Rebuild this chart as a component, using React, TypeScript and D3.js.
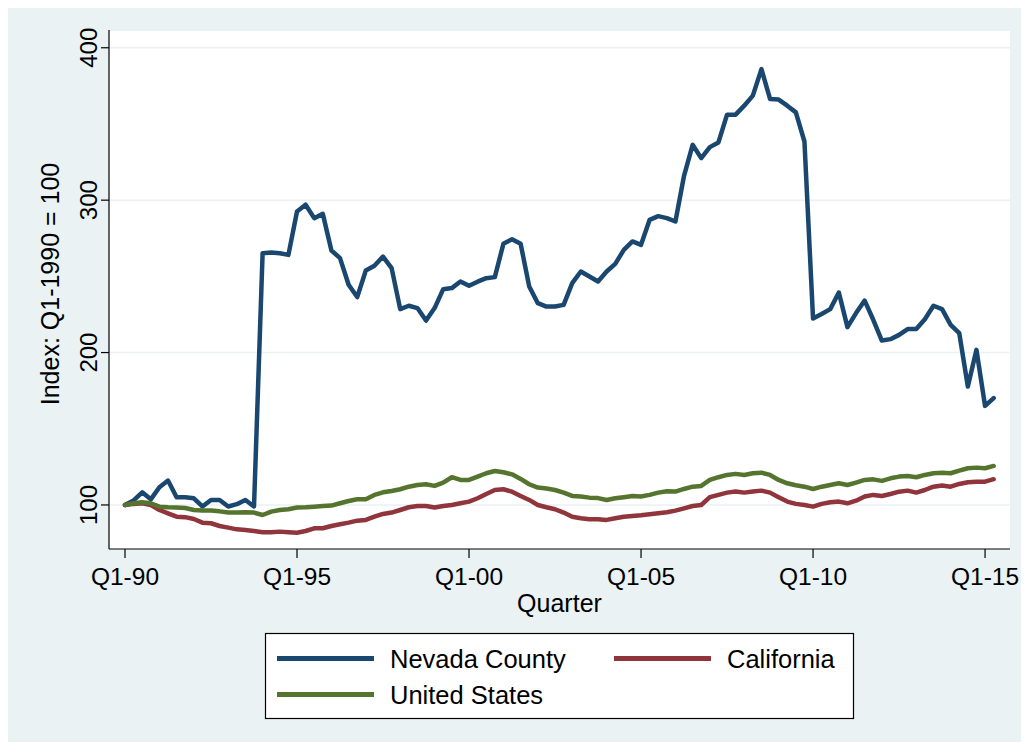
import * as d3 from "d3"

// quarterly index values, Q1-1990 = 100, running 1990Q1 .. 2015Q2
const nevadaCounty = [
  100, 103, 108.3, 103.7, 111.6, 116, 105, 105, 104.4, 99, 103.3, 103.3, 99, 100.5, 103.3, 99,
  265.2, 265.6, 265.2, 264.1, 292.6, 297, 288.2, 291, 267, 262, 244.5, 236.4, 253.8, 256.9,
  263, 255.4, 228.5, 230.7, 229.2, 221, 229.2, 241.6, 242.3, 246.6, 243.8, 246.5, 248.8,
  249.5, 271.4, 274.4, 271.4, 243.3, 232.4, 230.2, 230.2, 231.3, 245.6, 253.2, 249.9, 246.6,
  253.2, 258.2, 267.4, 272.9, 270.7, 287.1, 289.5, 288.2, 286, 316, 336.3, 327.6, 334.8,
  337.9, 356.1, 356.1, 362, 368.6, 386, 366.4, 366, 362, 357.6, 338.5, 222.3, 225.3, 228.5,
  239.4, 216.7, 225.9, 234.1, 221.5, 207.9, 208.8, 211.6, 215.4, 215.4, 221.9, 230.7, 228.5,
  218.2, 212.7, 177.7, 201.8, 165, 170.1,
]

const california = [
  100, 100.7, 101.1, 100, 96.7, 94.5, 92.3, 92, 90.8, 88.4, 88, 86.2, 85.1, 84, 83.6, 82.9,
  82.1, 82.1, 82.5, 82.1, 81.8, 82.9, 84.7, 84.7, 86.2, 87.3, 88.4, 89.7, 90.2, 92.3, 94.1,
  95, 96.7, 98.5, 99.3, 99.3, 98.3, 99.3, 100, 101.1, 102.2, 104.4, 107.2, 109.8, 110.3,
  108.7, 105.9, 103.3, 100, 98.5, 97.2, 95, 92.3, 91.3, 90.6, 90.6, 90.2, 91.3, 92.3, 92.8,
  93.2, 93.9, 94.5, 95.2, 96.3, 97.8, 99.3, 100, 105.1, 106.6, 108.1, 108.8, 108.1, 108.8,
  109.4, 108.1, 105.1, 102.2, 100.7, 100, 98.9, 100.7, 101.8, 102.2, 101.1, 102.8, 105.5,
  106.6, 105.9, 107.2, 108.7, 109.4, 108.1, 109.8, 112, 112.7, 112, 113.8, 114.9, 115.3,
  115.3, 116.9,
]

const unitedStates = [
  100, 101.1, 101.8, 101.1, 98.9, 98.5, 98.3, 98, 96.7, 96.3, 96.3, 95.8, 95, 95, 95.2, 95,
  93.4, 95.6, 96.7, 97.2, 98.3, 98.5, 98.9, 99.3, 99.6, 101.1, 102.6, 103.7, 103.7, 106.6,
  108.3, 109.2, 110.3, 112, 113.1, 113.6, 112.5, 114.7, 118.2, 116.4, 116.4, 118.6, 120.8,
  122.3, 121.5, 120.1, 117.1, 113.6, 111.4, 110.8, 109.8, 108.1, 105.9, 105.5, 104.8, 104.5,
  103.3, 104.4, 105.1, 105.9, 105.6, 106.6, 108.1, 109, 108.8, 110.5, 112, 112.5, 116.4,
  118.2, 119.7, 120.4, 119.7, 120.8, 121.2, 119.7, 116.4, 114.2, 112.9, 112, 110.5, 112,
  113.1, 114.2, 113.1, 114.7, 116.4, 116.8, 115.8, 117.5, 118.6, 119, 118.2, 119.7, 120.8,
  121.2, 120.8, 122.5, 124.1, 124.5, 124.1, 125.6,
]

const xTickIndex = [0, 20, 40, 60, 80, 100]
const xTickLabels = ["Q1-90", "Q1-95", "Q1-00", "Q1-05", "Q1-10", "Q1-15"]
const yTicks = [100, 200, 300, 400]

const seriesNames = ["Nevada County", "California", "United States"]
const seriesColors = ["#1a476f", "#90353b", "#55752f"]

const BG = "#eaf2f3"
const FONT = "'Liberation Sans', Arial, Helvetica, sans-serif"

export default function App() {
  const width = 1028
  const height = 749
  const plot = { left: 109, right: 1010, top: 31, bottom: 549 }

  const x = d3
    .scaleLinear()
    .domain([-1.86, 102.9])
    .range([plot.left, plot.right])
  const y = d3
    .scaleLinear()
    .domain([71.1, 411])
    .range([plot.bottom, plot.top])

  const line = d3
    .line<number>()
    .x((_, i) => x(i))
    .y((d) => y(d))

  const allSeries = [nevadaCounty, california, unitedStates]

  return (
    <div style={{ position: "absolute", left: 0, top: 0 }}>
      <svg width={width} height={height} style={{ display: "block", fontFamily: FONT }}>
        <rect x={0} y={0} width={width} height={height} fill="#ffffff" />
        <rect x={8} y={8} width={1013} height={734} fill={BG} />

        {/* plot region */}
        <rect
          x={plot.left}
          y={plot.top}
          width={plot.right - plot.left}
          height={plot.bottom - plot.top}
          fill="#ffffff"
        />

        {/* grid */}
        {yTicks.map((t) => (
          <line
            key={"g" + t}
            x1={plot.left}
            x2={plot.right}
            y1={y(t)}
            y2={y(t)}
            stroke={BG}
            strokeWidth={1.5}
          />
        ))}

        {/* series */}
        {allSeries.map((s, k) => (
          <path
            key={seriesNames[k]}
            d={line(s) || ""}
            fill="none"
            stroke={seriesColors[k]}
            strokeWidth={4.5}
            strokeLinejoin="round"
            strokeLinecap="round"
          />
        ))}

        {/* y axis */}
        <line x1={plot.left} x2={plot.left} y1={plot.top - 1} y2={plot.bottom} stroke="#000" strokeWidth={1.2} />
        {yTicks.map((t) => (
          <g key={"y" + t}>
            <line x1={plot.left - 8} x2={plot.left} y1={y(t)} y2={y(t)} stroke="#000" strokeWidth={1.2} />
            <text
              transform={`translate(97,${y(t)}) rotate(-90)`}
              textAnchor="middle"
              fontSize={24}
              fill="#000"
            >
              {t}
            </text>
          </g>
        ))}
        <text
          transform={`translate(59,${(plot.top + plot.bottom) / 2 - 6}) rotate(-90)`}
          textAnchor="middle"
          fontSize={25}
          fill="#000"
        >
          Index: Q1-1990 = 100
        </text>

        {/* x axis */}
        <line x1={plot.left} x2={plot.right} y1={plot.bottom} y2={plot.bottom} stroke="#000" strokeWidth={1.2} />
        {xTickIndex.map((t, i) => (
          <g key={"x" + t}>
            <line x1={x(t)} x2={x(t)} y1={plot.bottom} y2={plot.bottom + 9} stroke="#000" strokeWidth={1.2} />
            <text x={x(t)} y={585} textAnchor="middle" fontSize={24.5} fill="#000">
              {xTickLabels[i]}
            </text>
          </g>
        ))}
        <text x={(plot.left + plot.right) / 2} y={612} textAnchor="middle" fontSize={25} fill="#000">
          Quarter
        </text>

        {/* legend */}
        <rect x={265.5} y={633.5} width={588} height={85} fill="#ffffff" stroke="#000" strokeWidth={1.2} />
        {[
          { k: 0, lx: 277, ly: 658.5 },
          { k: 1, lx: 614, ly: 658.5 },
          { k: 2, lx: 277, ly: 694.5 },
        ].map(({ k, lx, ly }) => (
          <g key={"l" + k}>
            <line x1={lx} x2={lx + 97} y1={ly} y2={ly} stroke={seriesColors[k]} strokeWidth={5} />
            <text x={lx + 113} y={ly + 9} fontSize={25.5} fill="#000">
              {seriesNames[k]}
            </text>
          </g>
        ))}
      </svg>
    </div>
  )
}
